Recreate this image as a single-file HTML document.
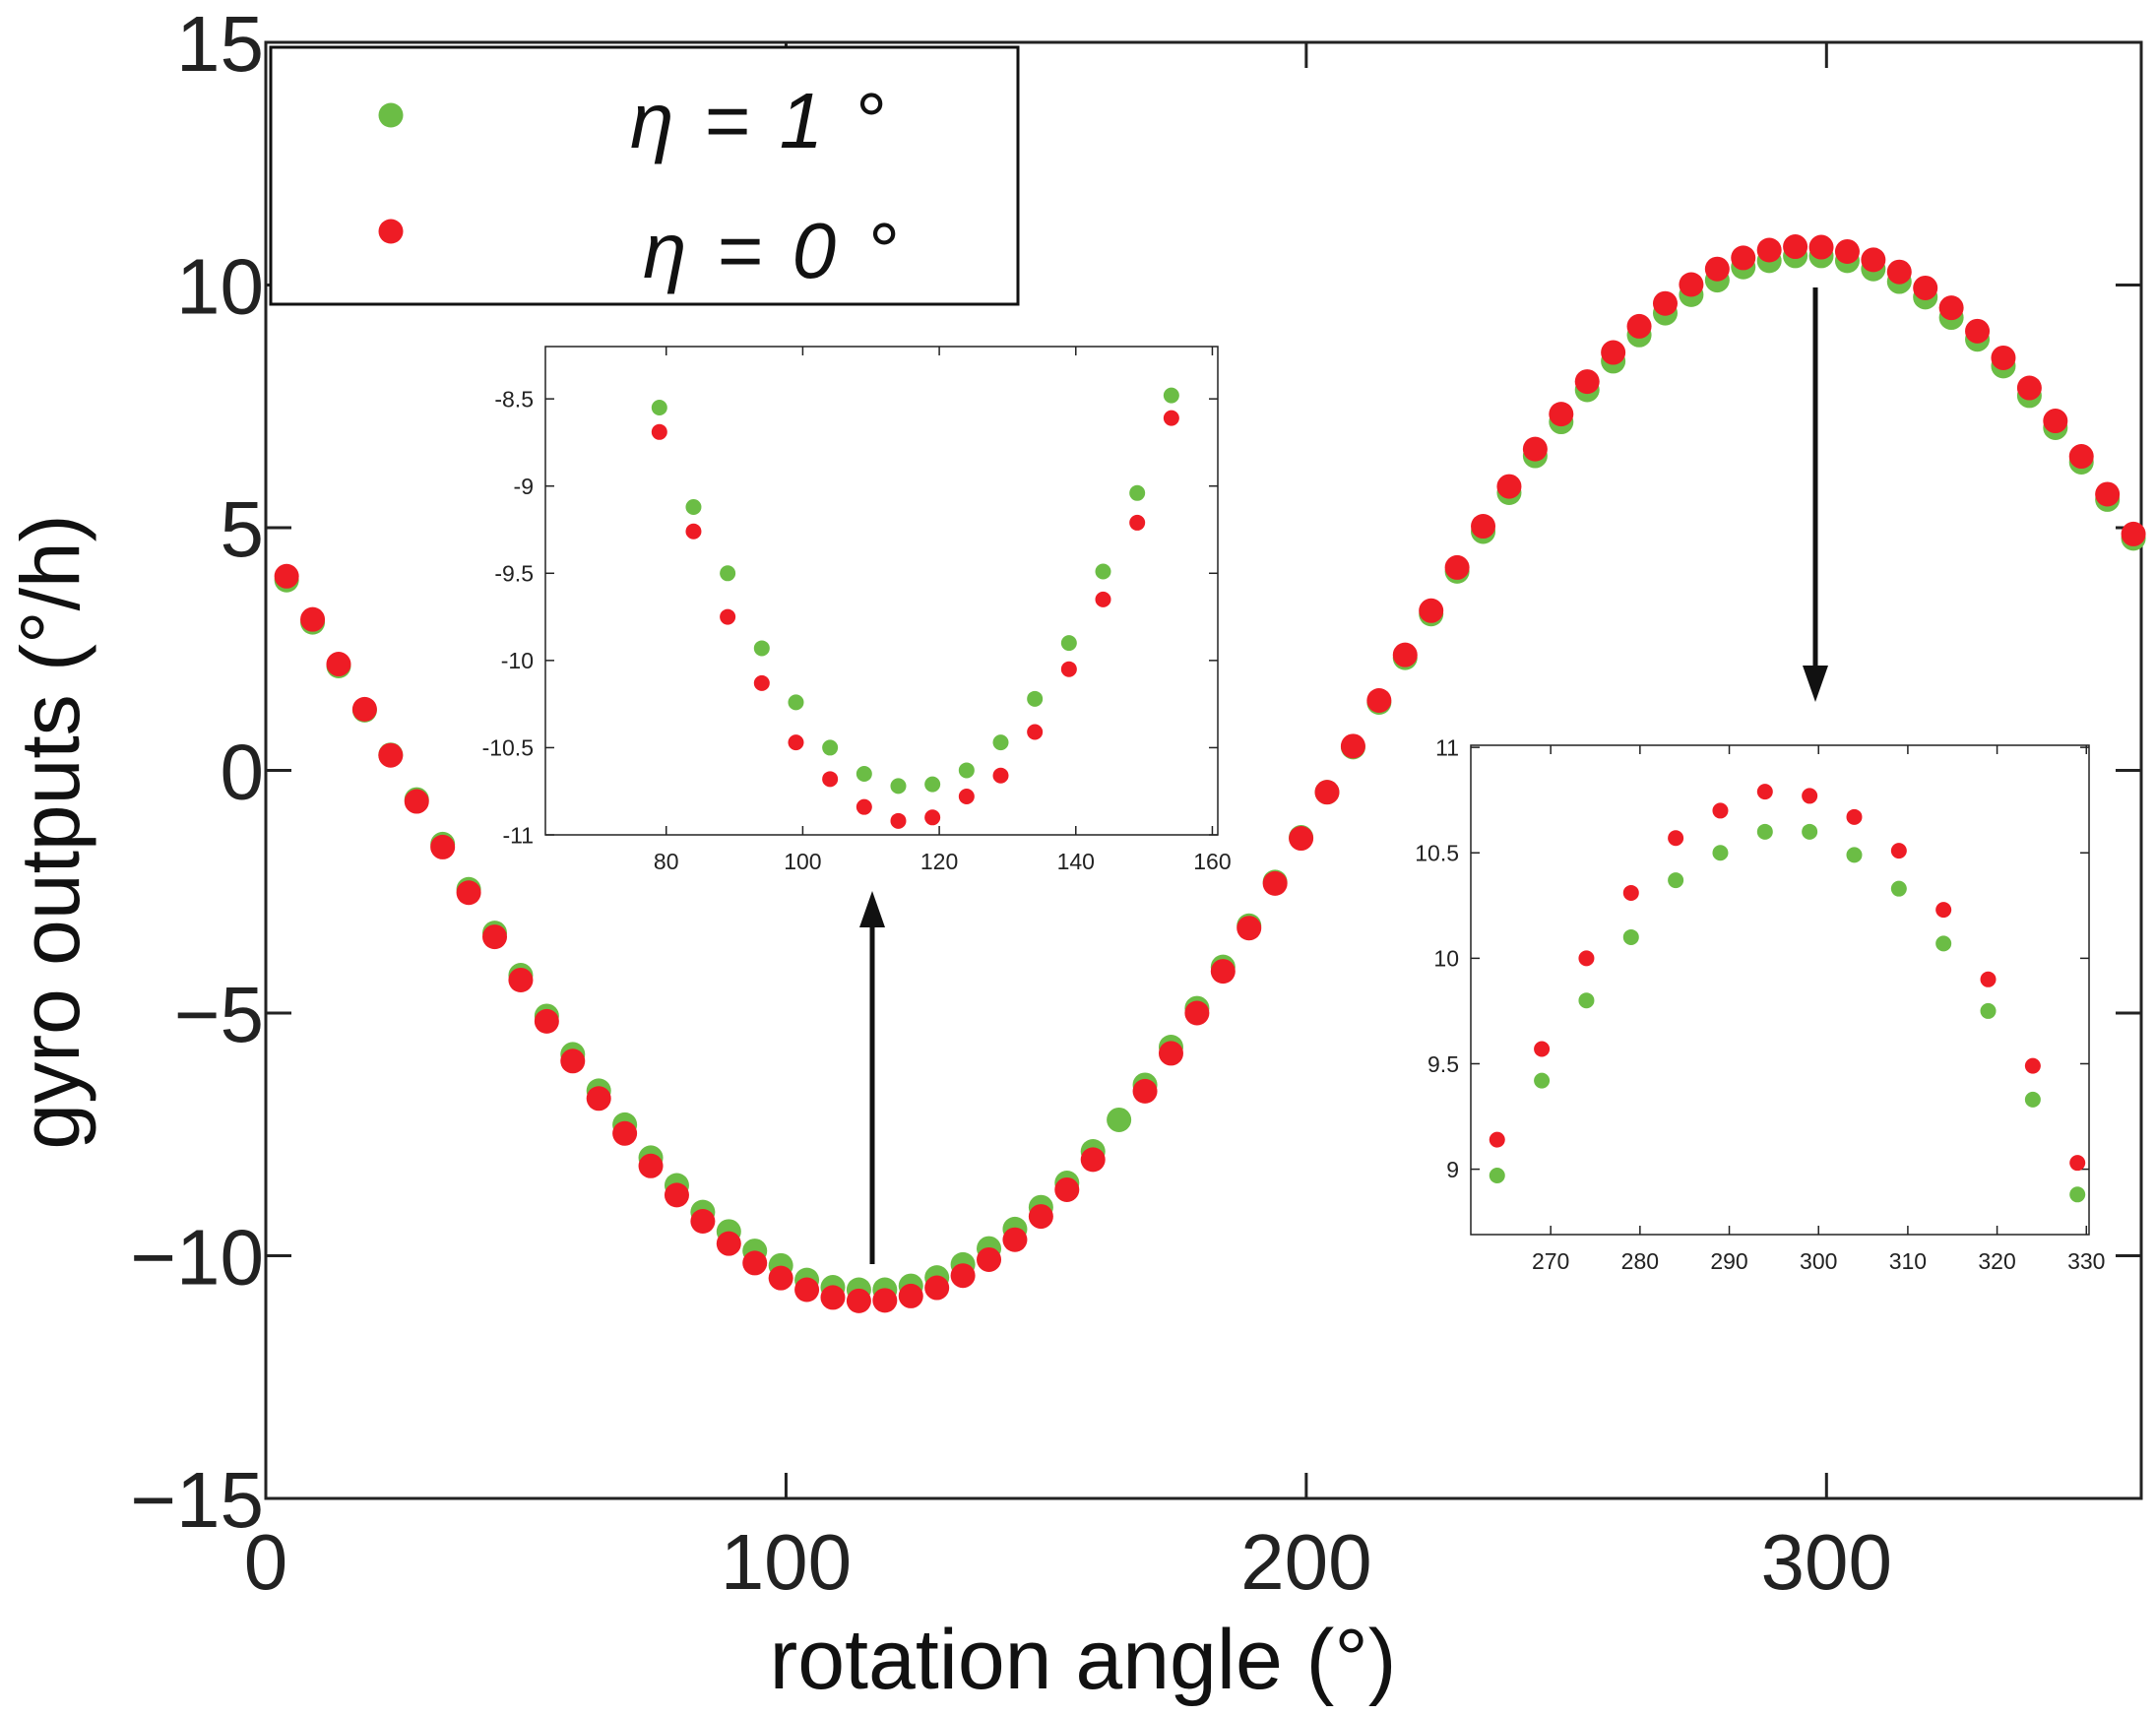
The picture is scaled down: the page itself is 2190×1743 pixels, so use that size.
<!DOCTYPE html>
<html><head><meta charset="utf-8"><style>
html,body{margin:0;padding:0;background:#fff;}
svg{display:block;font-family:"Liberation Sans",Arial,sans-serif;}
</style></head><body>
<svg id="chart" width="2190" height="1743" viewBox="0 0 2190 1743" xmlns="http://www.w3.org/2000/svg">
<g id="main"></g>
<g id="inset1"></g>
<g id="inset2"></g>
<g id="legend">
<rect x="275" y="48" width="759" height="261" fill="#fff" stroke="#111" stroke-width="3"/>
<circle cx="397" cy="117" r="12.5" fill="#6bbd45"/>
<circle cx="397" cy="235" r="12.5" fill="#ee1c25"/>
<text x="640" y="150" font-size="80" font-style="italic" letter-spacing="4" fill="#111">η = 1 °</text>
<text x="653" y="282" font-size="80" font-style="italic" letter-spacing="4" fill="#111">η = 0 °</text>
</g>
<g>
<line x1="886" y1="1284" x2="886" y2="935" stroke="#111" stroke-width="5"/>
<polygon points="886,905 873,942 899,942" fill="#111"/>
<line x1="1844" y1="292" x2="1844" y2="680" stroke="#111" stroke-width="5"/>
<polygon points="1844,713 1831,676 1857,676" fill="#111"/>
</g>
</svg>
<script>
const angles=[4,9,14,19,24,29,34,39,44,49,54,59,64,69,74,79,84,89,94,99,104,109,114,119,124,129,134,139,144,149,154,159,164,169,174,179,184,189,194,199,204,209,214,219,224,229,234,239,244,249,254,259,264,269,274,279,284,289,294,299,304,309,314,319,324,329,334,339,344,349,354,359];
const redVals=[4.00,3.11,2.19,1.26,0.31,-0.64,-1.58,-2.52,-3.43,-4.32,-5.17,-5.99,-6.76,-7.48,-8.15,-8.75,-9.29,-9.75,-10.15,-10.46,-10.70,-10.86,-10.93,-10.92,-10.83,-10.66,-10.41,-10.08,-9.67,-9.19,-8.64,-8.02,null,-6.61,-5.83,-5.00,-4.14,-3.25,-2.33,-1.40,-0.45,0.50,1.44,2.38,3.29,4.18,5.03,5.85,6.62,7.34,8.01,8.61,9.15,9.62,10.01,10.33,10.56,10.72,10.79,10.78,10.69,10.52,10.27,9.94,9.53,9.05,8.50,7.88,7.20,6.47,5.69,4.87];
const greenVals=[3.92,3.05,2.15,1.24,0.32,-0.60,-1.52,-2.45,-3.35,-4.22,-5.06,-5.85,-6.60,-7.30,-7.98,-8.55,-9.10,-9.50,-9.90,-10.20,-10.50,-10.65,-10.70,-10.70,-10.62,-10.45,-10.18,-9.85,-9.45,-9.00,-8.50,-7.85,-7.20,-6.48,-5.70,-4.90,-4.05,-3.20,-2.30,-1.38,-0.45,0.48,1.40,2.32,3.22,4.10,4.92,5.72,6.48,7.18,7.84,8.43,8.97,9.42,9.80,10.10,10.37,10.50,10.60,10.60,10.50,10.33,10.07,9.75,9.33,8.88,8.33,7.72,7.06,6.35,5.58,4.78];
const xTicks=[0,100,200,300];
const yTicks=[-15,-10,-5,0,5,10,15];
const yTickLabels=["\u221215","\u221210","\u22125","0","5","10","15"];
const in1Angles=[79,84,89,94,99,104,109,114,119,124,129,134,139,144,149,154];
const in1Green=[-8.55,-9.12,-9.50,-9.93,-10.24,-10.50,-10.65,-10.72,-10.71,-10.63,-10.47,-10.22,-9.90,-9.49,-9.04,-8.48];
const in1Red=[-8.69,-9.26,-9.75,-10.13,-10.47,-10.68,-10.84,-10.92,-10.90,-10.78,-10.66,-10.41,-10.05,-9.65,-9.21,-8.61];
const in1XTicks=[80,100,120,140,160];
const in1YTicks=[-11,-10.5,-10,-9.5,-9,-8.5];
const in2Angles=[264,269,274,279,284,289,294,299,304,309,314,319,324,329];
const in2Green=[8.97,9.42,9.80,10.10,10.37,10.50,10.60,10.60,10.49,10.33,10.07,9.75,9.33,8.88];
const in2Red=[9.14,9.57,10.00,10.31,10.57,10.70,10.79,10.77,10.67,10.51,10.23,9.90,9.49,9.03];
const in2XTicks=[270,280,290,300,310,320,330];
const in2YTicks=[9,9.5,10,10.5,11];

const NS="http://www.w3.org/2000/svg";
function mk(parent,tag,attrs){const e=document.createElementNS(NS,tag);for(const k in attrs)e.setAttribute(k,attrs[k]);parent.appendChild(e);return e;}

function drawAxes(g,box,xl,yl,xt,yt,ytl,opt){
  const sx=v=>box.x+(v-xl[0])/(xl[1]-xl[0])*box.w;
  const sy=v=>box.y+box.h-(v-yl[0])/(yl[1]-yl[0])*box.h;
  const r=mk(g,'rect',{x:box.x,y:box.y,width:box.w,height:box.h,fill:'#fff',stroke:'#222','stroke-width':opt.sw});
  
  
  xt.forEach(v=>{
    const x=sx(v);
    const t1=mk(g,'line',{x1:x,y1:box.y+box.h,x2:x,y2:box.y+box.h-opt.tl,stroke:'#222','stroke-width':opt.sw});
    
    
    const t2=mk(g,'line',{x1:x,y1:box.y,x2:x,y2:box.y+opt.tl,stroke:'#222','stroke-width':opt.sw});
    
    
    const tx=mk(g,'text',{x:x,y:box.y+box.h+opt.xlo,'font-size':opt.fs,'text-anchor':'middle',fill:'#222'});
    tx.textContent=String(v);
    
    
  });
  yt.forEach((v,i)=>{
    const y=sy(v);
    const t1=mk(g,'line',{x1:box.x,y1:y,x2:box.x+opt.tl,y2:y,stroke:'#222','stroke-width':opt.sw});
    
    
    const t2=mk(g,'line',{x1:box.x+box.w,y1:y,x2:box.x+box.w-opt.tl,y2:y,stroke:'#222','stroke-width':opt.sw});
    
    
    const tx=mk(g,'text',{x:box.x-opt.ylo,y:y+opt.fs*0.36,'font-size':opt.fs,'text-anchor':'end',fill:'#222'});
    tx.textContent=ytl?ytl[i]:String(v);
    
    
  });
  return {sx,sy};
}
function drawDots(g,sx,sy,xs,ys,color,rad,name){
  xs.forEach((x,i)=>{
    if(ys[i]===null)return;
    const c=mk(g,'circle',{cx:sx(x),cy:sy(ys[i]),r:rad,fill:color});
    
    
  });
}
// main
const gm=document.getElementById('main');
const m=drawAxes(gm,{x:270,y:43,w:1905,h:1479},[0,360.5],[-15,15],xTicks,yTicks,yTickLabels,{sw:3,tl:26,fs:80,xlo:92,ylo:2,prefix:'main'});
drawDots(gm,m.sx,m.sy,angles,greenVals,'#6bbd45',12.5,'green-point');
drawDots(gm,m.sx,m.sy,angles,redVals,'#ee1c25',12.5,'red-point');
const xl=mk(gm,'text',{x:1100,y:1715,'font-size':86,'text-anchor':'middle',fill:'#111'});
xl.textContent='rotation angle (°)';


const yl=mk(gm,'text',{x:0,y:0,'font-size':84,'text-anchor':'middle',fill:'#111',transform:'translate(80,845) rotate(-90)'});
yl.textContent='gyro outputs (°/h)';


// inset 1
const g1=document.getElementById('inset1');
const a1=drawAxes(g1,{x:554,y:352,w:683,h:496},[62.3,160.8],[-11,-8.2],in1XTicks,in1YTicks,null,{sw:1.5,tl:9,fs:23,xlo:35,ylo:12,prefix:'inset1'});
drawDots(g1,a1.sx,a1.sy,in1Angles,in1Green,'#6bbd45',8,'inset1-green-point');
drawDots(g1,a1.sx,a1.sy,in1Angles,in1Red,'#ee1c25',8,'inset1-red-point');
// inset 2
const g2=document.getElementById('inset2');
const a2=drawAxes(g2,{x:1494,y:757,w:628,h:497},[261.05,330.3],[8.69,11.01],in2XTicks,in2YTicks,null,{sw:1.5,tl:9,fs:23,xlo:35,ylo:12,prefix:'inset2'});
drawDots(g2,a2.sx,a2.sy,in2Angles,in2Green,'#6bbd45',8,'inset2-green-point');
drawDots(g2,a2.sx,a2.sy,in2Angles,in2Red,'#ee1c25',8,'inset2-red-point');
</script>
</body></html>
